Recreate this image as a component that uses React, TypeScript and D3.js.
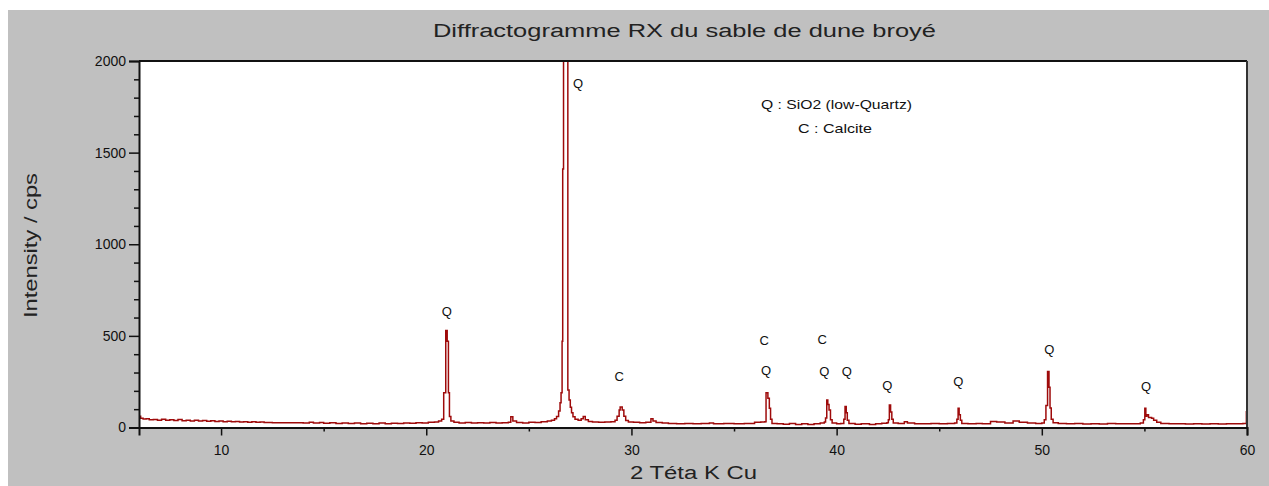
import React, { useEffect, useRef } from 'react'
import * as d3 from 'd3'

const W = 1269
const H = 486
const FONT = '"Liberation Sans", Arial, sans-serif'

// 2θ (degrees) and intensity (cps)
const twoTheta = [
  6.0, 6.08, 6.2, 6.35, 6.5, 6.7, 6.9, 7.1, 7.3, 7.5, 7.7, 7.9, 8.1, 8.3, 8.5, 8.7, 8.9, 9.1, 9.3, 9.5,
  9.7, 9.9, 10.1, 10.3, 10.5, 10.7, 10.9, 11.1, 11.3, 11.5, 11.7, 11.9, 12.1, 12.5, 13.0, 13.5, 14.0, 14.3, 14.5, 14.8,
  15.0, 15.3, 15.6, 15.9, 16.2, 16.5, 16.8, 17.1, 17.4, 17.7, 18.0, 18.3, 18.6, 18.9, 19.2, 19.5, 19.8, 20.1, 20.4, 20.6,
  20.75, 20.85, 20.95, 21.02, 21.08, 21.13, 21.2, 21.35, 21.6, 21.9, 22.2, 22.5, 22.8, 23.1, 23.4, 23.7, 24.0, 24.12, 24.22, 24.4,
  24.7, 25.0, 25.3, 25.6, 25.9, 26.1, 26.25, 26.35, 26.45, 26.52, 26.57, 26.62, 26.65, 26.69, 26.9, 26.96, 27.02, 27.08, 27.15, 27.25,
  27.4, 27.55, 27.65, 27.75, 27.9, 28.1, 28.4, 28.7, 29.0, 29.2, 29.3, 29.4, 29.45, 29.55, 29.63, 29.72, 29.85, 30.1, 30.4, 30.7,
  30.95, 31.05, 31.2, 31.5, 31.8, 32.2, 32.6, 33.0, 33.4, 33.8, 34.0, 34.5, 35.0, 35.5, 36.0, 36.3, 36.5, 36.56, 36.65, 36.72,
  36.78, 36.85, 37.1, 37.4, 37.7, 38.0, 38.3, 38.6, 38.9, 39.2, 39.4, 39.46, 39.52, 39.57, 39.63, 39.7, 39.78, 40.0, 40.2, 40.35,
  40.41, 40.47, 40.52, 40.6, 40.9, 41.2, 41.6, 41.9, 42.2, 42.45, 42.52, 42.57, 42.63, 42.69, 42.76, 43.0, 43.3, 43.45, 43.8, 44.2,
  44.6, 45.0, 45.4, 45.75, 45.86, 45.92, 45.97, 46.03, 46.1, 46.4, 46.8, 47.1, 47.5, 47.8, 48.2, 48.6, 48.9, 49.3, 49.7, 50.0,
  50.12, 50.2, 50.28, 50.35, 50.4, 50.46, 50.55, 50.8, 51.2, 51.6, 52.0, 52.4, 52.8, 53.2, 53.6, 54.0, 54.4, 54.8, 54.95, 55.02,
  55.07, 55.12, 55.2, 55.35, 55.45, 55.6, 55.8, 56.2, 56.6, 57.0, 57.4, 57.8, 58.2, 58.6, 59.0, 59.4, 59.8, 59.97, 60.0,
]
const counts = [
  62, 50, 46, 48, 42, 44, 40, 45, 39, 42, 38, 43, 37, 40, 36, 39, 35, 38, 34, 37,
  33, 36, 32, 34, 31, 33, 30, 32, 29, 31, 28, 30, 27, 26, 26, 26, 25, 28, 24, 27,
  23, 26, 22, 25, 22, 24, 21, 23, 21, 24, 21, 23, 22, 25, 23, 26, 24, 28, 30, 36,
  45, 190, 530, 470, 190, 60, 36, 28, 25, 27, 24, 26, 25, 27, 24, 26, 28, 58, 35, 27,
  25, 28, 27, 32, 36, 40, 48, 60, 90, 135, 190, 470, 1410, 2600, 205, 150, 110, 80, 58, 45,
  40, 48, 60, 42, 33, 30, 28, 30, 32, 40, 62, 95, 112, 95, 62, 38, 30, 28, 26, 29,
  48, 35, 27, 24, 22, 21, 22, 21, 22, 24, 21, 22, 21, 22, 28, 30, 32, 190, 160, 105,
  45, 22, 20, 18, 22, 16, 20, 17, 21, 24, 30, 52, 150, 125, 95, 42, 25, 20, 22, 45,
  114, 80, 40, 22, 18, 20, 17, 21, 23, 26, 42, 123, 85, 45, 25, 22, 32, 24, 21, 20,
  22, 20, 22, 24, 45, 105, 70, 40, 22, 20, 22, 21, 33, 30, 24, 35, 28, 24, 22, 25,
  42, 120, 305, 220, 106, 45, 26, 22, 20, 22, 19, 21, 19, 22, 20, 21, 20, 24, 42, 105,
  62, 70, 55, 50, 40, 28, 22, 20, 21, 19, 21, 19, 21, 19, 21, 20, 22, 86, 86,
]

// phase labels: text, 2θ, intensity level of the label
const peakLabels = ['Q', 'Q', 'C', 'C', 'Q', 'C', 'Q', 'Q', 'Q', 'Q', 'Q', 'Q']
const peakLabelTheta = [27.4, 21.0, 29.4, 36.47, 36.56, 39.3, 39.4, 40.5, 42.47, 45.93, 50.37, 55.08]
const peakLabelLevel = [1880, 632, 277, 474, 314, 483, 308, 308, 232, 250, 428, 223]

const xTicks = [10, 20, 30, 40, 50, 60]
const xMinorTicks = [15, 25, 35, 45, 55]
const yTicks = [0, 500, 1000, 1500, 2000]
const yMinorTicks = d3.range(0, 2001, 100).filter(v => v % 500 !== 0)

const legendLines = ['Q : SiO2 (low-Quartz)', 'C : Calcite']

const App = () => {
  const ref = useRef<SVGSVGElement>(null)

  useEffect(() => {
    const svg = d3.select(ref.current)
    svg.selectAll('*').remove()

    const left = 139
    const right = 1247
    const top = 61
    const bottom = 427.5

    const x = d3.scaleLinear().domain([6, 60]).range([left, right])
    const y = d3.scaleLinear().domain([0, 2000]).range([bottom, top])

    svg.append('rect').attr('x', 8).attr('y', 10).attr('width', W - 8).attr('height', H - 10).attr('fill', '#c0c0c0')
    svg.append('rect').attr('x', left).attr('y', top).attr('width', right - left).attr('height', bottom - top).attr('fill', '#ffffff')

    svg
      .append('clipPath')
      .attr('id', 'plot-clip')
      .append('rect')
      .attr('x', left)
      .attr('y', top)
      .attr('width', right - left)
      .attr('height', bottom - top)

    const data = twoTheta.map((t, i) => [t, counts[i]] as [number, number])
    const line = d3
      .line<[number, number]>()
      .x(d => x(d[0]))
      .y(d => y(d[1]))
      .curve(d3.curveStepAfter)

    svg
      .append('path')
      .datum(data)
      .attr('clip-path', 'url(#plot-clip)')
      .attr('d', line)
      .attr('fill', 'none')
      .attr('stroke', '#9e0a0a')
      .attr('stroke-width', 1.5)

    // frame
    svg.append('line').attr('x1', left).attr('x2', right).attr('y1', top).attr('y2', top).attr('stroke', '#111').attr('stroke-width', 2)
    svg.append('line').attr('x1', right).attr('x2', right).attr('y1', top).attr('y2', bottom).attr('stroke', '#333').attr('stroke-width', 2)

    // axes
    const yAxis = svg
      .append('g')
      .attr('transform', `translate(${left},0)`)
      .call(d3.axisLeft(y).tickValues(yTicks).tickSize(10).tickPadding(3).tickFormat(d3.format('d')))
    svg
      .append('g')
      .attr('transform', `translate(${left},0)`)
      .call(d3.axisLeft(y).tickValues(yMinorTicks).tickSize(5).tickFormat(() => ''))
      .call(g => g.select('.domain').remove())

    const xAxis = svg
      .append('g')
      .attr('transform', `translate(0,${bottom})`)
      .call(d3.axisBottom(x).tickValues(xTicks).tickSize(8).tickPadding(10))
    svg
      .append('g')
      .attr('transform', `translate(0,${bottom})`)
      .call(d3.axisBottom(x).tickValues(xMinorTicks).tickSize(4).tickFormat(() => ''))
      .call(g => g.select('.domain').remove())

    ;[yAxis, xAxis].forEach(g => {
      g.select('.domain').attr('stroke', '#111').attr('stroke-width', 2)
      g.selectAll('text').style('font-family', FONT).style('font-size', '14px').attr('fill', '#111')
    })
    svg.selectAll('.tick line').attr('stroke', '#111').attr('stroke-width', 1.5)

    // peak labels
    svg
      .append('g')
      .selectAll('text')
      .data(peakLabels)
      .join('text')
      .attr('x', (d, i) => x(peakLabelTheta[i]))
      .attr('y', (d, i) => y(peakLabelLevel[i]))
      .attr('dy', '0.36em')
      .attr('text-anchor', 'middle')
      .style('font-family', FONT)
      .style('font-size', '13px')
      .attr('fill', '#111')
      .text(d => d)

    // legend
    svg
      .append('text')
      .attr('x', 761)
      .attr('y', 104)
      .attr('dy', '0.36em')
      .attr('textLength', 151)
      .attr('lengthAdjust', 'spacingAndGlyphs')
      .style('font-family', FONT)
      .style('font-size', '13px')
      .attr('fill', '#111')
      .text(legendLines[0])
    svg
      .append('text')
      .attr('x', 798)
      .attr('y', 128)
      .attr('dy', '0.36em')
      .attr('textLength', 74)
      .attr('lengthAdjust', 'spacingAndGlyphs')
      .style('font-family', FONT)
      .style('font-size', '13px')
      .attr('fill', '#111')
      .text(legendLines[1])

    // titles
    svg
      .append('text')
      .attr('x', 433)
      .attr('y', 37)
      .attr('textLength', 503)
      .attr('lengthAdjust', 'spacingAndGlyphs')
      .style('font-family', FONT)
      .style('font-size', '18px')
      .attr('fill', '#222')
      .text('Diffractogramme RX du sable de dune broyé')

    svg
      .append('text')
      .attr('x', 630)
      .attr('y', 479)
      .attr('textLength', 127)
      .attr('lengthAdjust', 'spacingAndGlyphs')
      .style('font-family', FONT)
      .style('font-size', '18px')
      .attr('fill', '#222')
      .text('2 Téta K Cu')

    svg
      .append('text')
      .attr('transform', 'translate(37,318) rotate(-90)')
      .attr('textLength', 145)
      .attr('lengthAdjust', 'spacingAndGlyphs')
      .style('font-family', FONT)
      .style('font-size', '18px')
      .attr('fill', '#222')
      .text('Intensity / cps')
  }, [])

  return (
    <svg
      ref={ref}
      width={W}
      height={H}
      style={{ position: 'absolute', left: 0, top: 0, background: '#ffffff' }}
    />
  )
}

export default App
